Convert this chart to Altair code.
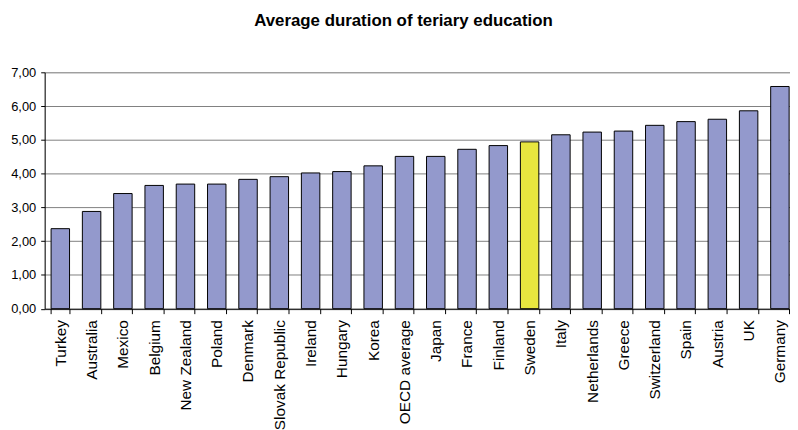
import altair as alt
import pandas as pd

countries = ["Turkey", "Australia", "Mexico", "Belgium", "New Zealand", "Poland",
             "Denmark", "Slovak Republic", "Ireland", "Hungary", "Korea",
             "OECD average", "Japan", "France", "Finland", "Sweden", "Italy",
             "Netherlands", "Greece", "Switzerland", "Spain", "Austria", "UK",
             "Germany"]
values = [2.37, 2.88, 3.41, 3.65, 3.69, 3.69, 3.83, 3.91, 4.02, 4.06, 4.23,
          4.51, 4.51, 4.72, 4.83, 4.94, 5.15, 5.23, 5.26, 5.43, 5.54, 5.61,
          5.86, 6.58]
highlight = ["Sweden"]

df = pd.DataFrame({"country": countries, "value": values})
df["hl"] = df["country"].isin(highlight).map({True: "yes", False: "no"})

FONT = "Liberation Sans"

chart = alt.Chart(df).mark_bar(stroke="black", strokeWidth=1).encode(
    x=alt.X("country:N", sort=countries, title=None,
            scale=alt.Scale(paddingInner=0.41, paddingOuter=0.205,
                            range=[0, 757.6]),
            axis=alt.Axis(labelAngle=-90, labelFont=FONT, labelFontSize=15.5,
                          labelColor="black", tickBand="extent", tickSize=5,
                          tickColor="black", domainColor="black",
                          labelPadding=6, grid=False)),
    y=alt.Y("value:Q", title=None,
            scale=alt.Scale(domain=[0, 7], nice=False),
            axis=alt.Axis(values=[0, 1, 2, 3, 4, 5, 6, 7],
                          labelExpr="replace(format(datum.value, '.2f'), '.', ',')",
                          labelFont=FONT, labelFontSize=13, labelColor="black",
                          tickSize=4, tickColor="black", domainColor="black",
                          labelPadding=5, grid=True, gridColor="#808080",
                          gridWidth=1)),
    fill=alt.Fill("hl:N", scale=alt.Scale(domain=["no", "yes"],
                                          range=["#9399CC", "#E8E63F"]),
                  legend=None),
).properties(
    width=752,
    height=238.5,
    title=alt.Title("Average duration of teriary education", font=FONT,
                    fontSize=17, fontWeight="bold", color="black",
                    offset=37, anchor="middle", dx=-14),
    autosize=alt.AutoSizeParams(type="none"),
    padding={"left": 37, "top": 63, "right": 0, "bottom": 120},
).configure_view(stroke=None).configure(background="white")

chart.save("out.html", embed_options={"renderer": "svg", "actions": False})
